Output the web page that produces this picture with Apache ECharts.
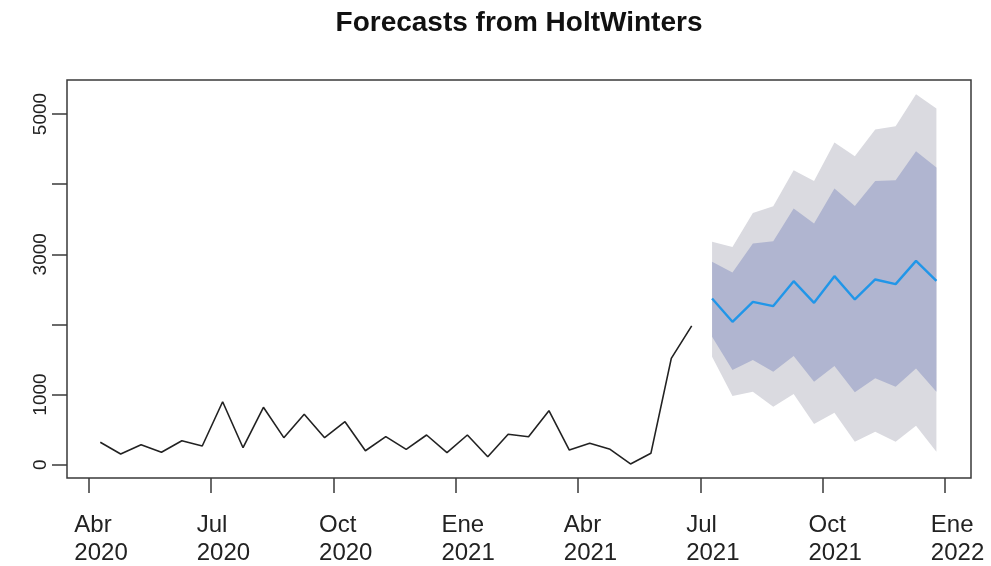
<!DOCTYPE html>
<html>
<head>
<meta charset="utf-8">
<title>Forecasts from HoltWinters</title>
<script src="https://cdn.jsdelivr.net/npm/echarts@6/dist/echarts.min.js"></script>
<style>
  html, body { margin: 0; padding: 0; background: #ffffff; }
  #chart { width: 991px; height: 566px; }
</style>
</head>
<body>
<div id="chart"></div>
<script>
// Semi-monthly series (24 observations per year), like an R ts object
const tsStart = 2020.274;
const tsFrequency = 24;

// Observed values, Apr 2020 – Jun 2021
const observed = [319, 152, 285, 177, 342, 266, 897, 242, 818, 385, 718, 385, 613, 199, 399,
                  219, 423, 171, 423, 114, 433, 399, 769, 209, 305, 219, 10, 162, 1516, 1980];

// HoltWinters point forecasts and prediction intervals (12 steps ahead)
const fcMean = [2370, 2037, 2322, 2261, 2617, 2308, 2688, 2356, 2641, 2574, 2906, 2621];
const lo80   = [1823, 1349, 1491, 1325, 1548, 1182, 1406, 1031, 1231, 1111, 1373, 1040];
const hi80   = [2892, 2741, 3154, 3187, 3652, 3439, 3937, 3689, 4046, 4056, 4469, 4236];
const lo95   = [1538, 979, 1040, 826, 1007, 580, 741, 328, 470, 328, 556, 185];
const hi95   = [3177, 3105, 3590, 3685, 4198, 4046, 4593, 4397, 4778, 4825, 5281, 5077];

// Axis ticks
const xTickValues = [2020.25, 2020.5, 2020.75, 2021, 2021.25, 2021.5, 2021.75, 2022];
const xTickMonths = ['Abr', 'Jul', 'Oct', 'Ene', 'Abr', 'Jul', 'Oct', 'Ene'];
const xTickYears  = ['2020', '2020', '2020', '2021', '2021', '2021', '2021', '2022'];
const yTickValues = [0, 1000, 2000, 3000, 4000, 5000];
const yLabelValues = [0, 1000, 3000, 5000];

// Time index for observations and forecasts
const timeAt = i => tsStart + i / tsFrequency;
const obsData = observed.map((v, i) => [timeAt(i), v]);
const fcTime = i => timeAt(observed.length + i);
const pairs = arr => arr.map((v, i) => [fcTime(i), v]);

const axisFont = '"Liberation Sans", Arial, sans-serif';
const inkColor = '#3a3a3a';
const lightBand = '#dadae0';
const darkBand = '#b0b5d0';

// Each row: [time, lower, upper] for one prediction interval
const bandRows = (lower, upper) => lower.map((v, i) => [fcTime(i), v, upper[i]]);

// Draws a whole interval as one filled polygon through the axis scales
function bandSeries(name, rows, color, z) {
  return {
    name: name,
    type: 'custom',
    silent: true,
    z: z,
    data: rows,
    encode: { x: 0, y: [1, 2] },
    renderItem: function (params, api) {
      if (params.dataIndex !== 0) return null;
      const top = rows.map(r => api.coord([r[0], r[2]]));
      const bottom = rows.map(r => api.coord([r[0], r[1]])).reverse();
      return {
        type: 'polygon',
        shape: { points: top.concat(bottom) },
        style: { fill: color, stroke: null }
      };
    }
  };
}

const chart = echarts.init(document.getElementById('chart'), null, { renderer: 'canvas' });

chart.setOption({
  backgroundColor: '#ffffff',
  animation: false,
  title: {
    text: 'Forecasts from HoltWinters',
    left: 514,
    textAlign: 'center',
    top: 4,
    textStyle: {
      fontFamily: '"Liberation Sans", Arial, sans-serif',
      fontWeight: 'bold',
      fontSize: 28,
      color: '#111111'
    }
  },
  grid: {
    left: 67, right: 20, top: 80, bottom: 88,
    show: true,
    borderColor: inkColor,
    borderWidth: 1.5,
    backgroundColor: 'transparent'
  },
  xAxis: {
    type: 'value',
    min: 2020.206,
    max: 2022.053,
    splitLine: { show: false },
    axisLine: { show: false, onZero: false },
    axisTick: {
      show: true,
      length: 15,
      customValues: xTickValues,
      lineStyle: { color: inkColor, width: 1.5 }
    },
    axisLabel: {
      customValues: xTickValues,
      margin: 33,
      padding: [0, 0, 0, 25],
      fontSize: 24,
      fontFamily: axisFont,
      color: '#222222',
      rich: {
        m: { align: 'left', fontSize: 24, lineHeight: 28, fontFamily: axisFont, color: '#222222' }
      },
      formatter: function (val) {
        const k = xTickValues.findIndex(t => Math.abs(t - val) < 1e-6);
        return k >= 0 ? '{m|' + xTickMonths[k] + '}\n{m|' + xTickYears[k] + '}' : '';
      }
    }
  },
  yAxis: {
    type: 'value',
    min: -190,
    max: 5485,
    splitLine: { show: false },
    axisLine: { show: false, onZero: false },
    axisTick: {
      show: true,
      length: 15,
      customValues: yTickValues,
      lineStyle: { color: inkColor, width: 1.5 }
    },
    axisLabel: {
      customValues: yLabelValues,
      rotate: 90,
      margin: 17,
      fontSize: 19,
      fontFamily: axisFont,
      color: '#222222',
      formatter: v => String(v)
    }
  },
  series: [
    bandSeries('95%', bandRows(lo95, hi95), lightBand, 1),
    bandSeries('80%', bandRows(lo80, hi80), darkBand, 2),
    {
      name: 'observed',
      type: 'line',
      data: obsData,
      symbol: 'none',
      lineStyle: { color: '#222222', width: 1.6 },
      z: 3
    },
    {
      name: 'forecast',
      type: 'line',
      data: pairs(fcMean),
      symbol: 'none',
      lineStyle: { color: '#2196e8', width: 2.4 },
      z: 4
    }
  ]
});
</script>
</body>
</html>
